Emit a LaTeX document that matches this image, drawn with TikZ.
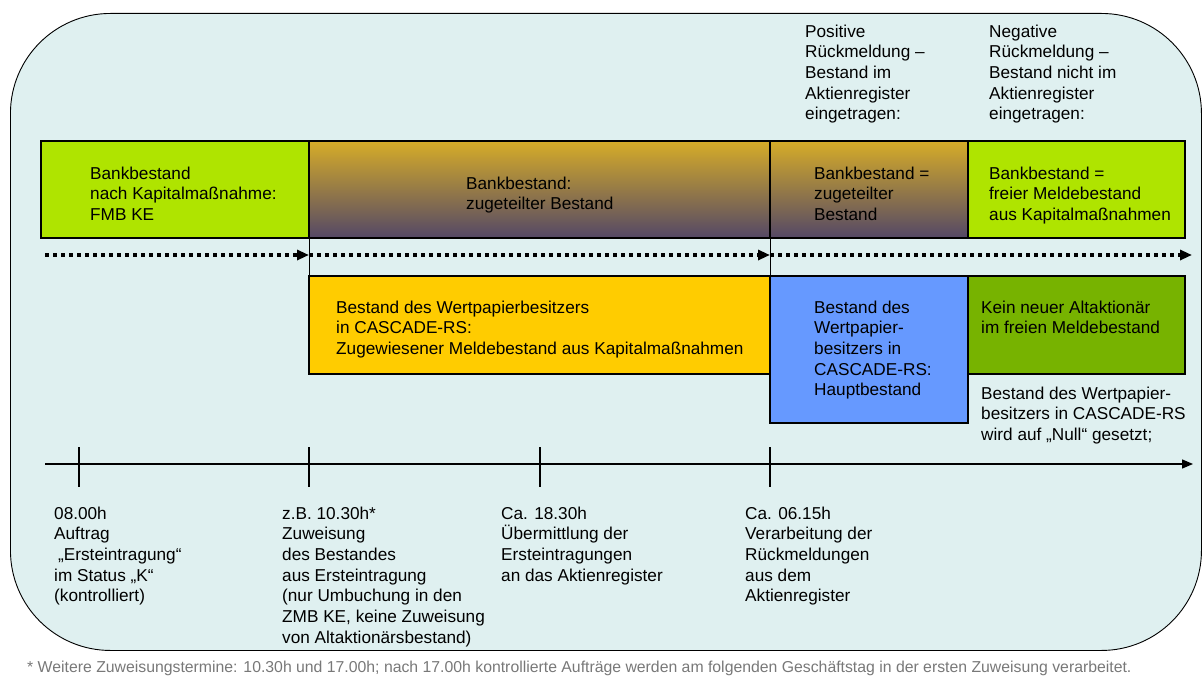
\documentclass[tikz,border=0pt]{standalone}
\usepackage{fontspec}
\setmainfont{Liberation Sans}
\usetikzlibrary{arrows.meta, positioning}
\definecolor{bgcyan}{RGB}{223,240,240}
\definecolor{limegreen}{RGB}{175,228,0}
\definecolor{darkgreen}{RGB}{119,179,0}
\definecolor{goldtop}{RGB}{214,172,40}
\definecolor{purplebot}{RGB}{84,72,102}
\definecolor{yellowbox}{RGB}{255,204,0}
\definecolor{bluebox}{RGB}{102,153,255}
\definecolor{notegray}{RGB}{120,120,120}

\begin{document}
\begin{tikzpicture}[x=1pt, y=-1pt,
		every node/.style={font=\fontsize{17.2pt}{20.7pt}\selectfont, inner sep=0pt},
		box/.style={draw, line width=1.1pt, anchor=north west, outer sep=0pt},
		lbl/.style={anchor=base west, align=left},
		dots/.style={line width=3.3pt, dash pattern=on 3.5pt off 4.5pt, -{Triangle[length=12pt, width=10pt]}}]
		\useasboundingbox (0,0) rectangle (1202,677);

		% Rahmen
		\node[draw, fill=bgcyan, line width=0.9pt, rounded corners=100pt, anchor=north west,
			minimum width=1191pt, minimum height=637pt] (frame) at (10,13) {};

		% Bankbestand (lbl sitzt auf der letzten Grundlinie)
		\node[box, fill=limegreen, minimum width=268pt, minimum height=97pt] (fmb) at (41,141) {};
		\node[box, top color=goldtop, bottom color=purplebot, minimum width=461pt, minimum height=97pt] (zug) at (fmb.north east) {};
		\node[box, top color=goldtop, bottom color=purplebot, minimum width=198pt, minimum height=97pt] (zugpos) at (zug.north east) {};
		\node[box, fill=limegreen, minimum width=217pt, minimum height=97pt] (frei) at (zugpos.north east) {};
		\node[lbl] (fmbtxt) at (90,220.4) {Bankbestand\\nach Kapitalmaßnahme:\\FMB KE};
		\node[lbl] (zugtxt) at (466,209.7) {Bankbestand:\\zugeteilter Bestand};
		\node[lbl] (zugpostxt) at (814,220.4) {Bankbestand =\\zugeteilter\\Bestand};
		\node[lbl] (freitxt) at (989,220.4) {Bankbestand =\\freier Meldebestand\\aus Kapitalmaßnahmen};

		% Rueckmeldungen
		\node[lbl] (pos) at (805,119.8) {Positive\\Rückmeldung –\\Bestand im\\Aktienregister\\eingetragen:};
		\node[lbl] (neg) at (989,119.8) {Negative\\Rückmeldung –\\Bestand nicht im\\Aktienregister\\eingetragen:};

		% Bestand in CASCADE-RS
		\node[box, fill=yellowbox, minimum width=461pt, minimum height=98pt] (gelb) at (309,276) {};
		\node[box, fill=bluebox, minimum width=198pt, minimum height=147pt] (haupt) at (gelb.north east) {};
		\node[box, fill=darkgreen, minimum width=217pt, minimum height=98pt] (kein) at (haupt.north east) {};
		\node[lbl] (gelbtxt) at (336,354.4) {Bestand des Wertpapierbesitzers\\in CASCADE-RS:\\Zugewiesener Meldebestand aus Kapitalmaßnahmen};
		\node[lbl] (haupttxt) at (814,395.8) {Bestand des\\Wertpapier-\\besitzers in\\CASCADE-RS:\\Hauptbestand};
		\node[lbl] (keintxt) at (981,333.7) {Kein neuer Altaktionär\\im freien Meldebestand};
		\node[lbl] (null) at (981,440.4) {Bestand des Wertpapier-\\besitzers in CASCADE-RS\\wird auf „Null“ gesetzt;};

		\draw[line width=1pt] (zug.south west) -- (gelb.north west);
		\draw[line width=1pt] (zugpos.south west) -- (haupt.north west);

		% gepunktete Pfeile
		\coordinate (d0) at (45,255); \coordinate (d1) at (309,255);
		\coordinate (d2) at (770,255); \coordinate (d3) at (1192,255);
		\draw[dots] (d0) -- (d1);
		\draw[dots] (d1) -- (d2);
		\draw[dots] (d2) -- (d3);

		% Zeitachse
		\coordinate (t0) at (45,464); \coordinate (tend) at (1193,464);
		\draw[line width=1.3pt, -{Triangle[length=11pt, width=9pt]}] (t0) -- (tend);
		\foreach \x [count=\i] in {79,309,540,770} {
			\coordinate (tick\i) at (\x,464);
			\draw[line width=1.1pt] ([yshift=17pt]tick\i) -- ([yshift=-23pt]tick\i);
		}
		\node[lbl] (t1) at (54,601.8) {08.00h\\Auftrag\\\hspace*{4pt}„Ersteintragung“\\im Status „K“\\(kontrolliert)};
		\node[lbl] (t2) at (282,643.2) {z.B. 10.30h*\\Zuweisung\\des Bestandes\\aus Ersteintragung\\(nur Umbuchung in den\\ZMB KE, keine Zuweisung\\von Altaktionärsbestand)};
		\node[lbl] (t3) at (501,581.1) {Ca. 18.30h\\Übermittlung der\\Ersteintragungen\\an das Aktienregister};
		\node[lbl] (t4) at (745,601.8) {Ca. 06.15h\\Verarbeitung der\\Rückmeldungen\\aus dem\\Aktienregister};

		% Fussnote
		\node[anchor=base west, font=\fontsize{15.8pt}{17pt}\selectfont, text=notegray] (note) at (27,672)
			{* Weitere Zuweisungstermine: 10.30h und 17.00h; nach 17.00h kontrollierte Aufträge werden am folgenden Geschäftstag in der ersten Zuweisung verarbeitet.};
	\end{tikzpicture}
\end{document}
